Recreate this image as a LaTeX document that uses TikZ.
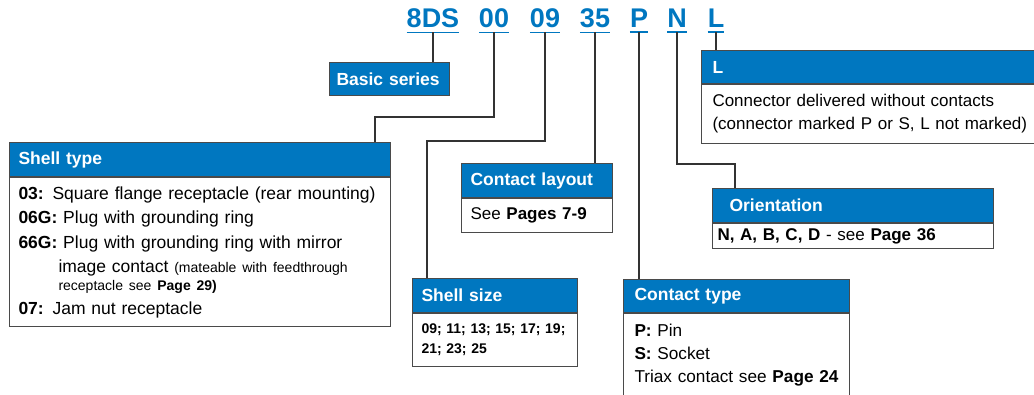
\documentclass[tikz,border=0pt]{standalone}
\usepackage{fontspec}
\setmainfont{Liberation Sans}
\usetikzlibrary{positioning}
\definecolor{codeblue}{HTML}{0077C0}
\definecolor{framegray}{HTML}{4A4A4A}

\begin{document}
\begin{tikzpicture}[x=1pt,y=-1pt,
  code/.style={text=codeblue,font=\bfseries\fontsize{27}{27}\selectfont,inner sep=0pt,anchor=base},
  uline/.style={draw=codeblue,line width=1.6pt},
  head/.style={draw=framegray,line width=1pt,fill=codeblue,text=white,anchor=north west,
    font=\bfseries\fontsize{17.5}{20}\selectfont,inner xsep=9pt,inner ysep=0pt,align=left},
  body/.style={draw=framegray,line width=1pt,fill=white,anchor=north west,
    font=\fontsize{17}{24.5}\selectfont,inner xsep=9pt,inner ysep=0pt,align=left},
  link/.style={draw=black!80,line width=1.3pt}]
  \useasboundingbox (0,0) rectangle (1034,395);
  % order code
  \node[code] (c8ds) at (433,28) {8DS};
  \node[code] (c00) at (494,28) {00};
  \node[code] (c09) at (545,28) {09};
  \node[code] (c35) at (595,28) {35};
  \node[code] (cp) at (639,28) {P};
  \node[code] (cn) at (677,28) {N};
  \node[code] (cl) at (716,28) {L};
  \foreach \c in {c8ds,c00,c09,c35,cp,cn,cl}
    \draw[uline] ([yshift=-4pt]\c.south west) -- ([yshift=-4pt]\c.south east);
  % basic series
  \node[head,text width=106pt,inner xsep=7pt,minimum height=33pt] (basic) at (329,62) {Basic series};
  % shell type
  \node[head,text width=363pt,minimum height=34pt] (shtype) at (9,142) {Shell type};
  \node[body,text width=363pt,minimum height=149pt,below=0pt of shtype.south west,anchor=north west,
    font=\fontsize{17.5}{24.5}\selectfont] (shtypebody) {%
    \textbf{03:} Square flange receptacle (rear mounting)\\
    \textbf{06G:} Plug with grounding ring\\
    \textbf{66G:} Plug with grounding ring with mirror\\
    \hspace*{40pt}image contact {\fontsize{14}{18}\selectfont (mateable with feedthrough}\\[-6.5pt]
    \hspace*{40pt}{\fontsize{14}{18}\selectfont receptacle see \textbf{Page 29)}}\\[-1pt]
    \textbf{07:} Jam nut receptacle};
  % contact layout
  \node[head,text width=133pt,minimum height=34pt] (layout) at (461,163) {Contact layout};
  \node[body,text width=133pt,minimum height=34pt,below=0pt of layout.south west,anchor=north west] (layoutbody) {%
    See \textbf{Pages 7-9}};
  % shell size
  \node[head,text width=147pt,minimum height=34pt] (shsize) at (412,278) {Shell size};
  \node[body,text width=147pt,minimum height=53pt,below=0pt of shsize.south west,anchor=north west,
    font=\bfseries\fontsize{14}{20}\selectfont] (shsizebody) {%
    09; 11; 13; 15; 17; 19;\\
    21; 23; 25};
  % contact type
  \node[head,text width=204pt,inner xsep=11pt,minimum height=33pt] (ctype) at (623,279) {Contact type};
  \node[body,text width=204pt,inner xsep=11pt,minimum height=83pt,below=0pt of ctype.south west,anchor=north west,
    font=\fontsize{17.2}{23}\selectfont] (ctypebody) {%
    \textbf{P:} Pin\\
    \textbf{S:} Socket\\
    Triax contact see \textbf{Page 24}};
  % orientation
  \node[head,text width=247pt,inner xsep=17pt,minimum height=34pt] (orient) at (712,188) {Orientation};
  \node[body,text width=271pt,inner xsep=5pt,minimum height=25pt,below=0pt of orient.south west,anchor=north west] (orientbody) {%
    \textbf{N, A, B, C, D} - see \textbf{Page 36}};
  % without contacts
  \node[head,text width=330pt,inner xsep=11pt,minimum height=33pt] (nocont) at (701,50) {L};
  \node[body,text width=330pt,inner xsep=11pt,minimum height=59pt,below=0pt of nocont.south west,anchor=north west,
    font=\fontsize{17}{23}\selectfont] (nocontbody) {%
    Connector delivered without contacts\\
    (connector marked P or S, L not marked)};
  % connectors
  \coordinate (b00) at (375,117);
  \coordinate (b09) at (427,141);
  \coordinate (bn) at (735,164);
  \draw[link] ([yshift=-4pt]c8ds.south) -- (c8ds.south |- basic.north);
  \draw[link] ([yshift=-4pt]c00.south) |- (b00) -- (b00 |- shtype.north);
  \draw[link] ([yshift=-4pt]c09.south) |- (b09) -- (b09 |- shsize.north);
  \draw[link] ([yshift=-4pt]c35.south) -- (c35.south |- layout.north);
  \draw[link] ([yshift=-4pt]cp.south) -- (cp.south |- ctype.north);
  \draw[link] ([yshift=-4pt]cn.south) |- (bn) -- (bn |- orient.north);
  \draw[link] ([yshift=-4pt]cl.south) -- (cl.south |- nocont.north);
\end{tikzpicture}
\end{document}
